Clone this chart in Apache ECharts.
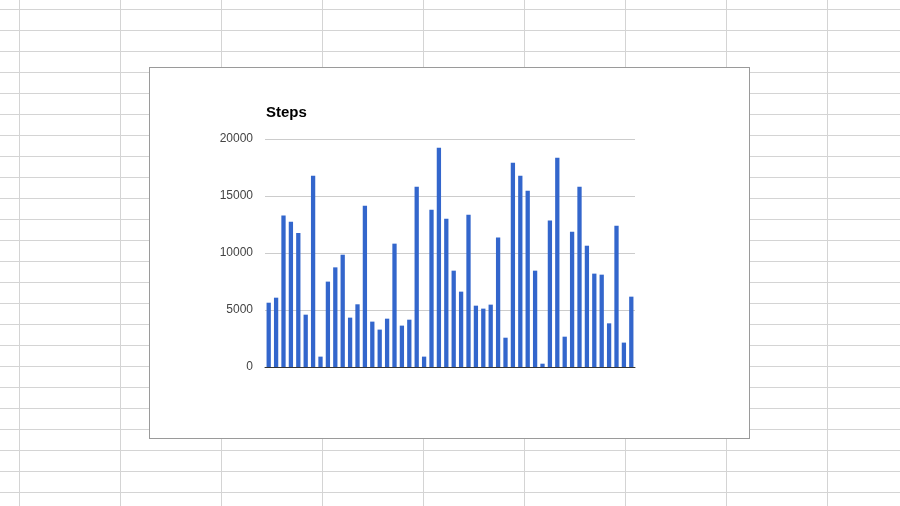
<!DOCTYPE html>
<html>
<head>
<meta charset="utf-8">
<script src="https://cdn.jsdelivr.net/npm/echarts@6/dist/echarts.min.js"></script>
<style>
  html, body { margin: 0; padding: 0; }
  body {
    width: 900px; height: 506px; overflow: hidden; position: relative;
    background-color: #ffffff;
    background-image:
      linear-gradient(to right, #d4d4d4 1px, transparent 1px),
      linear-gradient(to bottom, #d4d4d4 1px, transparent 1px);
    background-size: 101px 21px, 101px 21px;
    background-position: 19px 0px, 0px 9px;
  }
  #box {
    position: absolute; left: 149px; top: 67px;
    width: 599px; height: 370px;
    border: 1px solid #9a9a9a; background: #ffffff;
  }
  #chart { width: 599px; height: 370px; }
</style>
</head>
<body>
<div id="box"><div id="chart"></div></div>
<script>
const chartTitle = "Steps";
const categories = [];
for (let i = 1; i <= 50; i++) categories.push("Day " + i);
const steps = [
  5640, 6080, 13280, 12750, 11760, 4590, 16780, 910, 7490, 8740,
  9850, 4330, 5500, 14150, 3980, 3280, 4240, 10820, 3630, 4150,
  15820, 910, 13800, 19240, 13010, 8450, 6610, 13360, 5380, 5120,
  5470, 11350, 2570, 17920, 16780, 15470, 8450, 290, 12840, 18360,
  2660, 11870, 15820, 10640, 8190, 8100, 3830, 12400, 2140, 6170
];
const yTicks = [0, 5000, 10000, 15000, 20000];

const chart = echarts.init(document.getElementById('chart'), null, { renderer: 'canvas' });
chart.setOption({
  animation: false,
  backgroundColor: '#ffffff',
  title: {
    text: chartTitle,
    left: 116, top: 37, padding: 0,
    textStyle: { fontFamily: 'Liberation Sans, Arial, sans-serif', fontSize: 15, fontWeight: 'bold', color: '#000000' }
  },
  grid: { left: 115, right: 114, top: 71, bottom: 71, containLabel: false },
  xAxis: {
    type: 'category',
    data: categories,
    axisLine: { show: true, lineStyle: { color: '#333333', width: 1 } },
    axisTick: { show: false },
    axisLabel: { show: false },
    splitLine: { show: false }
  },
  yAxis: {
    type: 'value',
    min: yTicks[0], max: yTicks[yTicks.length - 1], interval: 5000,
    axisLine: { show: false },
    axisTick: { show: false },
    axisLabel: {
      color: '#444444', fontSize: 12, margin: 12,
      fontFamily: 'Liberation Sans, Arial, sans-serif',
      formatter: function (v) { return String(v); }
    },
    splitLine: { lineStyle: { color: '#cccccc', width: 1 } }
  },
  series: [{
    type: 'bar',
    data: steps,
    barCategoryGap: '42%',
    itemStyle: { color: '#3366cc' }
  }]
});
</script>
</body>
</html>
